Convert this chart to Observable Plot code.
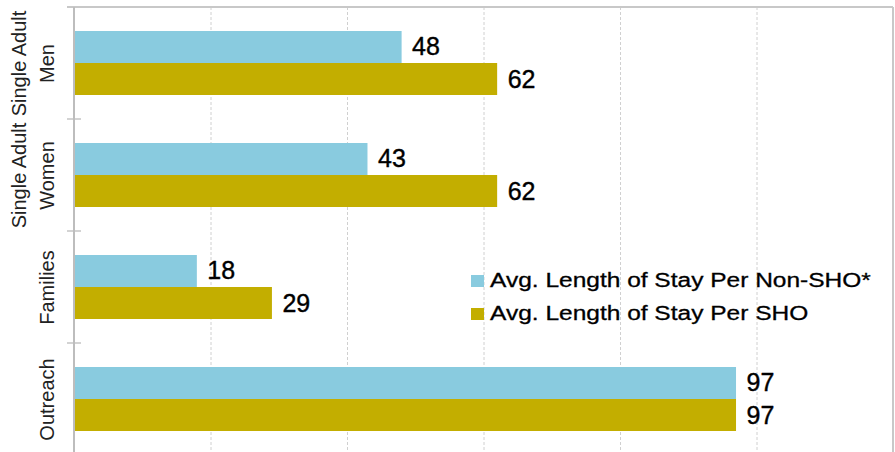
<!DOCTYPE html>
<html>
<head>
<meta charset="utf-8">
<script src="https://cdn.jsdelivr.net/npm/d3@7"></script>
<script src="https://cdn.jsdelivr.net/npm/@observablehq/plot@0.6"></script>
<style>
  html, body { margin: 0; padding: 0; background: #fff; }
  #wrap { position: relative; width: 895px; height: 452px; overflow: hidden; font-family: "Liberation Sans", Arial, sans-serif; }
  #legend { position: absolute; left: 471px; top: 270px; color: #000; font-size: 20px; }
  .row { position: relative; height: 33px; line-height: 20px; white-space: nowrap; }
  .sw { display: inline-block; width: 12.5px; height: 12.5px; margin-right: 6px; vertical-align: baseline; }
  .lt { display: inline-block; transform: scaleX(1.225); transform-origin: 0 50%; -webkit-text-stroke: 0.3px #000; }
</style>
</head>
<body>
<div id="wrap"></div>
<script>
const categories = ["Single Adult Men", "Single Adult Women", "Families", "Outreach"];
const categoryLabels = ["Single Adult\nMen", "Single Adult\nWomen", "Families", "Outreach"];
const seriesNames = ["Avg. Length of Stay Per Non-SHO*", "Avg. Length of Stay Per SHO"];
const nonShoValues = [48, 43, 18, 97];
const shoValues = [62, 62, 29, 97];
const seriesColors = ["#89cbdf", "#c3ae00"];
const gridTicks = [20, 40, 60, 80, 100];
const xDomain = [0, 120];

const rows = [];
categories.forEach((c, i) => {
  rows.push({category: c, series: seriesNames[0], value: nonShoValues[i]});
  rows.push({category: c, series: seriesNames[1], value: shoValues[i]});
});
const rowsA = rows.filter(d => d.series === seriesNames[0]);
const rowsB = rows.filter(d => d.series === seriesNames[1]);

const frameMark = (index, scales, values, dims) => {
  const {x, y} = scales;
  const g = d3.create("svg:g");
  const x0 = x(xDomain[0]);
  const x1 = x(xDomain[1]);
  categories.forEach(c => {
    g.append("line").attr("x1", x0 - 7).attr("x2", x0 + 7)
      .attr("y1", y(c)).attr("y2", y(c))
      .attr("stroke", "#c4c4c4").attr("stroke-width", 1.5);
  });
  g.append("line").attr("x1", x0 - 7).attr("x2", x1)
    .attr("y1", y(categories[0])).attr("y2", y(categories[0]))
    .attr("stroke", "#c8c8c8").attr("stroke-width", 2);
  g.append("line").attr("x1", x1).attr("x2", x1)
    .attr("y1", y(categories[0])).attr("y2", dims.height)
    .attr("stroke", "#c8c8c8").attr("stroke-width", 2);
  g.append("line").attr("x1", x0).attr("x2", x0)
    .attr("y1", y(categories[0])).attr("y2", dims.height)
    .attr("stroke", "#bdbdbd").attr("stroke-width", 2);
  return g.node();
};

const chart = Plot.plot({
  width: 895,
  height: 452,
  marginLeft: 74,
  marginRight: 2,
  marginTop: 7,
  marginBottom: -3,
  x: {domain: xDomain, axis: null},
  y: {domain: categories, padding: 0},
  color: {domain: seriesNames, range: seriesColors},
  style: {fontFamily: "'Liberation Sans', Arial, sans-serif", background: "white", overflow: "visible"},
  marks: [
    Plot.gridX(gridTicks, {stroke: "#d0d0d0", strokeOpacity: 1, strokeDasharray: "3,2"}),
    Plot.barX(rowsA, {x: "value", y: "category", fill: "series", insetTop: 24, insetBottom: 56}),
    Plot.barX(rowsB, {x: "value", y: "category", fill: "series", insetTop: 56, insetBottom: 24}),
    Plot.text(rowsA, {x: "value", y: "category", text: d => String(d.value), dx: 10, dy: -17, textAnchor: "start", fontSize: 25, fill: "#000", stroke: "#000", strokeWidth: 0.4}),
    Plot.text(rowsB, {x: "value", y: "category", text: d => String(d.value), dx: 10, dy: 16, textAnchor: "start", fontSize: 25, fill: "#000", stroke: "#000", strokeWidth: 0.4}),
    frameMark,
    Plot.axisY({anchor: "left", tickSize: 0, tickPadding: 21, rotate: -90, textAnchor: "middle", lineAnchor: "bottom", lineHeight: 1.4, fontSize: 20, fill: "#222", tickFormat: d => categoryLabels[categories.indexOf(d)], label: null})
  ]
});

const wrap = document.getElementById("wrap");
wrap.appendChild(chart);
const legend = document.createElement("div");
legend.id = "legend";
seriesNames.forEach((name, i) => {
  const row = document.createElement("div");
  row.className = "row";
  const sw = document.createElement("span");
  sw.className = "sw";
  sw.style.background = seriesColors[i];
  row.appendChild(sw);
  const t = document.createElement("span");
  t.className = "lt";
  t.textContent = name;
  row.appendChild(t);
  legend.appendChild(row);
});
wrap.appendChild(legend);
</script>
</body>
</html>
